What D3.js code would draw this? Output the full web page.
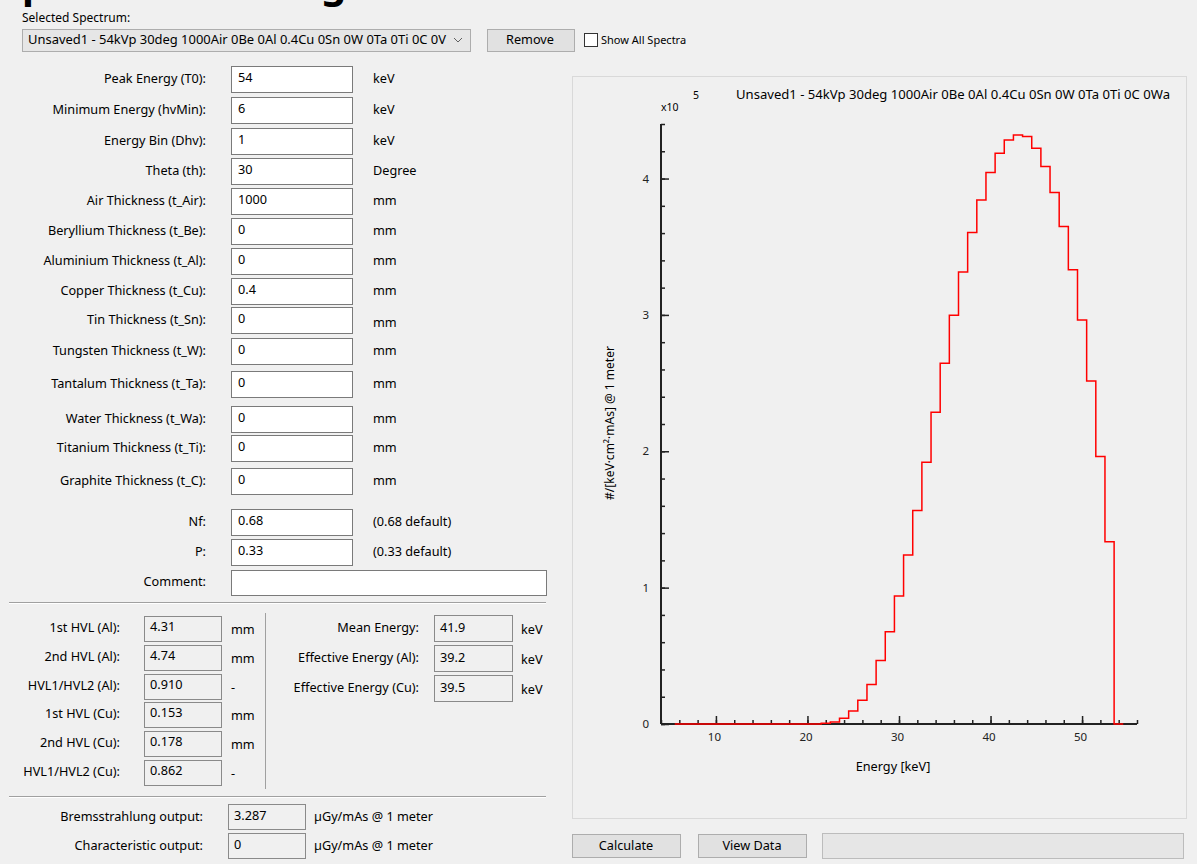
<!DOCTYPE html>
<html>
<head>
<meta charset="utf-8">
<script src="https://cdn.jsdelivr.net/npm/d3@7"></script>
<style>
  body { margin: 0; background: #f0f0f0; }
  svg { display: block; font-family: "Noto Sans", "Open Sans", sans-serif; }
</style>
</head>
<body>
<script>
// spectrum data: bin centre energies (keV) and counts (x10^5)
var energies = [6,7,8,9,10,11,12,13,14,15,16,17,18,19,20,21,22,23,24,25,26,27,28,29,30,
                31,32,33,34,35,36,37,38,39,40,41,42,43,44,45,46,47,48,49,50,51,52,53,54];
var counts = [0,0,0,0,0,0,0,0,0,0,0,0,0,0,0,0,0.005,0.015,0.042,0.095,0.174,0.289,0.466,0.676,0.939,
              1.240,1.566,1.919,2.286,2.645,2.998,3.314,3.605,3.843,4.044,4.186,4.282,4.319,4.309,4.223,
              4.088,3.897,3.649,3.331,2.963,2.515,1.961,1.336,0];
var xMajorTicks = [10,20,30,40,50];
var yMajorTicks = [0,1,2,3,4];
var chartTitle = "Unsaved1 - 54kVp 30deg 1000Air 0Be 0Al 0.4Cu 0Sn 0W 0Ta 0Ti 0C 0Wa";

// input form
var inputLabels = ["Peak Energy (T0):","Minimum Energy (hvMin):","Energy Bin (Dhv):","Theta (th):",
    "Air Thickness (t_Air):","Beryllium Thickness (t_Be):","Aluminium Thickness (t_Al):",
    "Copper Thickness (t_Cu):","Tin Thickness (t_Sn):","Tungsten Thickness (t_W):",
    "Tantalum Thickness (t_Ta):","Water Thickness (t_Wa):","Titanium Thickness (t_Ti):",
    "Graphite Thickness (t_C):","Nf:","P:"];
var inputValues = ["54","6","1","30","1000","0","0","0.4","0","0","0","0","0","0","0.68","0.33"];
var inputUnits = ["keV","keV","keV","Degree","mm","mm","mm","mm","mm","mm","mm","mm","mm","mm",
    "(0.68 default)","(0.33 default)"];
var inputRowY = [79,110,141,171,201,231,261,291,320,351,384,419,448,481,522,552];

// results
var hvlLabels = ["1st HVL (Al):","2nd HVL (Al):","HVL1/HVL2 (Al):","1st HVL (Cu):","2nd HVL (Cu):","HVL1/HVL2 (Cu):"];
var hvlValues = ["4.31","4.74","0.910","0.153","0.178","0.862"];
var hvlUnits = ["mm","mm","-","mm","mm","-"];
var hvlRowY = [628,657,686,714,743,772];
var energyLabels = ["Mean Energy:","Effective Energy (Al):","Effective Energy (Cu):"];
var energyValues = ["41.9","39.2","39.5"];
var energyRowY = [628,658,688];
var outputLabels = ["Bremsstrahlung output:","Characteristic output:"];
var outputValues = ["3.287","0"];
var outputRowY = [817,846];

var svg = d3.select("body").append("svg")
    .attr("width", 1197)
    .attr("height", 864);

svg.append("rect").attr("width", 1197).attr("height", 864).attr("fill", "#f0f0f0");

function label(x, y, txt, anchor, size, weight){
    return svg.append("text")
        .attr("x", x).attr("y", y)
        .attr("dy", "0.35em")
        .attr("text-anchor", anchor || "start")
        .attr("font-size", size || 12.7)
        .attr("font-weight", weight || "normal")
        .attr("fill", "#000")
        .text(txt);
}

function box(x, y, w, h, fill, stroke){
    return svg.append("rect")
        .attr("x", x + 0.5).attr("y", y + 0.5)
        .attr("width", w).attr("height", h)
        .attr("fill", fill).attr("stroke", stroke);
}

// big heading, mostly cut off at the top
svg.append("text")
    .attr("x", 0).attr("y", -2)
    .attr("font-size", 40).attr("font-weight", "bold")
    .attr("fill", "#000")
    .text("Spectrum Settings");

// header row
label(22, 18, "Selected Spectrum:", "start", 12);
box(22, 29, 448, 22, "#e6e6e6", "#adadad");
label(28, 40, "Unsaved1 - 54kVp 30deg 1000Air 0Be 0Al 0.4Cu 0Sn 0W 0Ta 0Ti 0C 0V", "start", 12.7)
    .attr("textLength", 418).attr("lengthAdjust", "spacingAndGlyphs");
svg.append("path").attr("d", "M454,38 l4,4 l4,-4").attr("fill", "none").attr("stroke", "#606060");
box(487, 29, 87, 22, "#e1e1e1", "#adadad");
label(530, 40, "Remove", "middle");
box(584, 33, 13, 13, "#fff", "#333");
label(601, 40, "Show All Spectra", "start", 11);

// input rows
inputLabels.forEach(function(t, i){
    var y = inputRowY[i];
    label(206, y, t, "end");
    box(231, y - 13, 121, 26, "#fff", "#7a7a7a");
    label(238, y - 1, inputValues[i]);
    label(373, i == 8 ? y + 3 : y, inputUnits[i]);
});
label(206, 582, "Comment:", "end");
box(231, 570, 315, 25, "#fff", "#7a7a7a");

// etched separators
function separator(x1, y1, x2, y2){
    svg.append("line").attr("x1", x1).attr("y1", y1 + 0.5).attr("x2", x2).attr("y2", y2 + 0.5)
        .attr("stroke", "#a0a0a0");
    svg.append("line").attr("x1", x1).attr("y1", y1 + 1.5).attr("x2", x2).attr("y2", y2 + 1.5)
        .attr("stroke", "#ffffff");
}
separator(9, 602, 546, 602);
separator(9, 796, 546, 796);
svg.append("line").attr("x1", 265.5).attr("y1", 613).attr("x2", 265.5).attr("y2", 789).attr("stroke", "#a0a0a0");

hvlLabels.forEach(function(t, i){
    var y = hvlRowY[i];
    label(120, y, t, "end");
    box(144, y - 12, 77, 25, "#f0f0f0", "#8a8a8a");
    label(150, y - 1, hvlValues[i]);
    label(231, y + 2, hvlUnits[i]);
});
energyLabels.forEach(function(t, i){
    var y = energyRowY[i];
    label(419, y, t, "end");
    box(434, y - 13, 78, 26, "#f0f0f0", "#8a8a8a");
    label(440, y, energyValues[i]);
    label(521, y + 2, "keV");
});
outputLabels.forEach(function(t, i){
    var y = outputRowY[i];
    label(203, y, t, "end");
    box(228, y - 13, 77, 25, "#f0f0f0", "#8a8a8a");
    label(234, y - 1, outputValues[i]);
    label(314, y, "\u00b5Gy/mAs @ 1 meter");
});

// bottom buttons
box(572, 834, 108, 23, "#e1e1e1", "#adadad");
label(626, 846, "Calculate", "middle");
box(698, 834, 108, 23, "#e1e1e1", "#adadad");
label(752, 846, "View Data", "middle");
box(822, 833, 361, 25, "#e6e6e6", "#bcbcbc");

// chart panel
box(572, 76, 614, 742, "none", "#d9d9d9");

var x = d3.scaleLinear().domain([4, 56]).range([661, 1137]);
var y = d3.scaleLinear().domain([0, 4.4]).range([724, 124]);

var xMinor = d3.range(4, 56.01, 2);
var yMinor = d3.range(0, 4.401, 0.2).map(function(d){ return +d.toFixed(1); });

var gx = svg.append("g").attr("transform", "translate(0,724)");
gx.call(d3.axisBottom(x).tickValues(xMinor).tickSize(-4).tickFormat(""));
gx.call(function(g){
    g.append("g").call(d3.axisBottom(x).tickValues(xMajorTicks).tickSize(-8).tickFormat(d3.format("d")))
        .selectAll("text").attr("dy", "1.2em").attr("dx", -2).attr("font-size", 11.5).attr("fill", "#222");
});
gx.selectAll(".domain").attr("stroke-width", 2).attr("stroke", "#222").attr("d", "M661,0H1137");
gx.selectAll(".tick line").attr("stroke", "#222").attr("stroke-width", 1.5);

var gy = svg.append("g").attr("transform", "translate(661,0)");
gy.call(d3.axisLeft(y).tickValues(yMinor).tickSize(-4).tickFormat(""));
gy.call(function(g){
    g.append("g").call(d3.axisLeft(y).tickValues(yMajorTicks).tickSize(-8).tickFormat(d3.format("d")))
        .selectAll("text").attr("x", -12).attr("font-size", 11.5).attr("fill", "#222");
});
gy.selectAll(".domain").attr("stroke-width", 2).attr("stroke", "#222").attr("d", "M0,124V724");
gy.selectAll(".tick line").attr("stroke", "#222").attr("stroke-width", 1.5);
svg.selectAll(".tick text").attr("font-family", "'Noto Sans', sans-serif");

// stepped spectrum: each bin spans centre +/- half a bin
var steps = [];
energies.forEach(function(e, i){
    steps.push([e - 0.5, counts[i]]);
    steps.push([e + 0.5, counts[i]]);
});
svg.append("path")
    .datum(steps)
    .attr("fill", "none")
    .attr("stroke", "#ff0000")
    .attr("stroke-width", 1.5)
    .attr("d", d3.line().x(function(d){ return x(d[0]); }).y(function(d){ return y(d[1]); }));

// titles
label(736, 95, chartTitle, "start", 12.7)
    .attr("textLength", 434).attr("lengthAdjust", "spacingAndGlyphs");
label(661, 107, "x10", "start", 10.5);
label(693, 95, "5", "start", 10.5);
label(893, 767, "Energy [keV]", "middle");
svg.append("text")
    .attr("transform", "translate(610,423) rotate(-90)")
    .attr("dy", "0.35em")
    .attr("text-anchor", "middle")
    .attr("font-size", 12)
    .attr("fill", "#000")
    .text("#/[keV\u00b7cm\u00b2\u00b7mAs] @ 1 meter");
</script>
</body>
</html>
